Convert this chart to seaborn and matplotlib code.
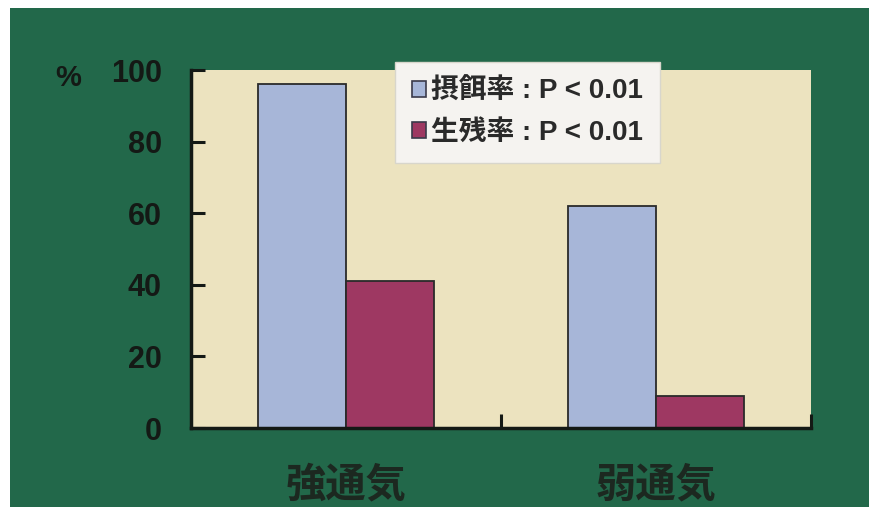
import pandas as pd
import matplotlib.pyplot as plt
import seaborn as sns
from matplotlib.patches import Patch

# data
conditions = ['強通気', '弱通気']
series = ['摂餌率', '生残率']
feeding_rate = [96, 62]
survival_rate = [41, 9]
legend_labels = ['摂餌率 : P < 0.01', '生残率 : P < 0.01']
yticks = [0, 20, 40, 60, 80, 100]

df = pd.DataFrame({
    'condition': conditions * 2,
    'series': [series[0]] * 2 + [series[1]] * 2,
    'value': feeding_rate + survival_rate,
})

sns.set_style('ticks')
plt.rcParams['font.family'] = ['Liberation Sans', 'Noto Sans CJK JP', 'DejaVu Sans']

green = '#22684a'
beige = '#ece3bf'
colors = ['#a7b6d8', '#9e3862']
ink = '#141915'

fig = plt.figure(figsize=(8.69, 5.15), dpi=100)
fig.patch.set_facecolor('white')

# green backdrop behind everything
bg = fig.add_axes([10 / 869, 8 / 515, 1 - 10 / 869, 1 - 16 / 515], zorder=-1)
bg.set_facecolor(green)
bg.set_xticks([])
bg.set_yticks([])
for s in bg.spines.values():
    s.set_visible(False)

ax = fig.add_axes([191 / 869, (515 - 428) / 515, (811 - 191) / 869, (428 - 70) / 515])
ax.set_facecolor(beige)

sns.barplot(data=df, x='condition', y='value', hue='series', palette=colors,
            saturation=1, width=0.57, edgecolor='#2a2a2a', linewidth=1.3,
            ax=ax, legend=False)

ax.set_xlim(-0.5, 1.5)
ax.set_ylim(0, 100)
ax.set_yticks(yticks)
ax.set_yticklabels([str(t) for t in yticks], fontsize=22, fontweight='bold', color=ink)
ax.tick_params(axis='y', direction='in', length=10, width=2.2, color=ink, pad=21)

# category boundary ticks along the x axis
ax.set_xticks([0.5, 1.5], minor=True)
ax.tick_params(axis='x', which='minor', direction='in', length=10, width=2.2, color=ink)
ax.tick_params(axis='x', which='major', length=0, pad=27)
ax.set_xticks([0, 1])
ax.set_xticklabels(conditions, fontsize=29, color='#1c2820', fontweight='bold')

ax.set_xlabel('')
ax.set_ylabel('')
for side in ['top', 'right']:
    ax.spines[side].set_visible(False)
for side in ['left', 'bottom']:
    ax.spines[side].set_linewidth(2.5)
    ax.spines[side].set_color(ink)

fig.text(55 / 869, 1 - 78 / 515, '%', fontsize=21, fontweight='bold', color=ink,
         va='center', ha='left')

handles = [Patch(facecolor=c, edgecolor='#3a3a4a', linewidth=1.2) for c in colors]
leg = fig.legend(handles, legend_labels, loc='upper left',
                 bbox_to_anchor=(395 / 869, 1 - 62 / 515), borderaxespad=0,
                 frameon=True, fancybox=False, facecolor='#f5f3f0',
                 edgecolor='#d8d6cc', framealpha=1,
                 prop={'size': 20, 'weight': 'bold'},
                 handlelength=0.5, handleheight=0.5, handletextpad=0.2,
                 labelspacing=0.55, borderpad=0.6)
leg.set_zorder(5)
for t in leg.get_texts():
    t.set_color('#2a2a2a')

fig.savefig('out.png', dpi=100)
